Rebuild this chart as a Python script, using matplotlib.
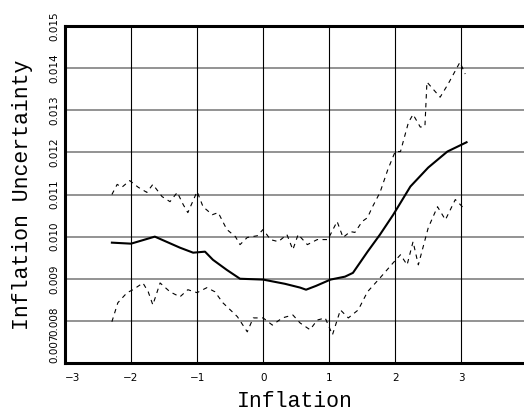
import matplotlib
matplotlib.use("Agg")
import matplotlib.pyplot as plt

# estimate (solid) line
est_x = [-2.29, -2.0, -1.64, -1.26, -1.06, -0.88, -0.76, -0.55, -0.35, 0.0,
         0.33, 0.56, 0.65, 0.80, 1.02, 1.24, 1.36, 1.58, 1.77, 1.97,
         2.23, 2.50, 2.79, 3.08]
est_y = [0.009857, 0.009833, 0.01000, 0.009738, 0.009619, 0.009643, 0.00945, 0.00921,
         0.00900, 0.00898, 0.00888, 0.00879, 0.00874, 0.00883, 0.00898, 0.00905,
         0.00914, 0.00964, 0.01005, 0.01052, 0.01119, 0.01164, 0.01202, 0.01224]

# upper band (dashed)
up_x = [-2.29, -2.21, -2.14, -2.02, -1.89, -1.76, -1.67, -1.53, -1.41, -1.30,
        -1.21, -1.14, -1.00, -0.91, -0.77, -0.68, -0.55, -0.42, -0.35, -0.24,
        -0.09, 0.00, 0.11, 0.23, 0.36, 0.45, 0.53, 0.67, 0.82, 0.98,
        1.12, 1.21, 1.32, 1.39, 1.50, 1.58, 1.65, 1.77, 1.89, 2.00,
        2.08, 2.20, 2.27, 2.38, 2.45, 2.48, 2.68, 2.80, 2.98, 3.06]
up_y = [0.01100, 0.01124, 0.01117, 0.01133, 0.01117, 0.01105, 0.01124, 0.01095, 0.01083, 0.01105,
        0.01076, 0.01057, 0.01107, 0.01071, 0.01052, 0.01057, 0.01017, 0.01000, 0.00981, 0.00998,
        0.01002, 0.01017, 0.00993, 0.00988, 0.01005, 0.00969, 0.01005, 0.00981, 0.00993, 0.00993,
        0.01036, 0.00998, 0.01012, 0.01010, 0.01036, 0.01045, 0.01069, 0.01105, 0.01160, 0.01202,
        0.01202, 0.01271, 0.01290, 0.01260, 0.01262, 0.01367, 0.01331, 0.01362, 0.01414, 0.01386]

# lower band (dashed)
lo_x = [-2.29, -2.20, -2.06, -1.97, -1.82, -1.74, -1.67, -1.56, -1.41, -1.26,
        -1.14, -1.00, -0.85, -0.73, -0.61, -0.39, -0.24, -0.15, 0.00, 0.14,
        0.29, 0.45, 0.56, 0.71, 0.82, 0.94, 1.05, 1.17, 1.29, 1.44,
        1.58, 1.77, 1.97, 2.08, 2.18, 2.27, 2.35, 2.50, 2.64, 2.76,
        2.91, 3.06]
lo_y = [0.00798, 0.00843, 0.00867, 0.00874, 0.00890, 0.00869, 0.00838, 0.00890, 0.00869, 0.00857,
        0.00874, 0.00867, 0.00879, 0.00869, 0.00843, 0.00810, 0.00774, 0.00807, 0.00807, 0.00790,
        0.00807, 0.00814, 0.00795, 0.00779, 0.00802, 0.00807, 0.00767, 0.00826, 0.00807, 0.00826,
        0.00869, 0.00902, 0.00938, 0.00957, 0.00933, 0.00988, 0.00933, 0.01021, 0.01071, 0.01040,
        0.01088, 0.01064]

x_ticks = [-3, -2, -1, 0, 1, 2, 3]
y_ticks = [0.007, 0.008, 0.009, 0.010, 0.011, 0.012, 0.013, 0.014, 0.015]

fig = plt.figure(figsize=(5.24, 4.12), dpi=100)
ax = fig.add_axes([65 / 524, 49 / 412, 1 - 65 / 524, 337 / 412])

for yv in y_ticks:
    ax.axhline(yv, color="#808080", lw=1.2, zorder=1)
for xv in x_ticks:
    ax.axvline(xv, color="black", lw=0.8, zorder=1)

ax.plot(est_x, est_y, color="black", lw=1.5, zorder=3)
ax.plot(up_x, up_y, color="black", lw=0.8, dashes=(4, 4), zorder=3)
ax.plot(lo_x, lo_y, color="black", lw=0.8, dashes=(4, 4), zorder=3)

ax.set_xlim(-3, 3.95)
ax.set_ylim(0.007, 0.015)
ax.set_xticks(x_ticks)
xlabs = ax.set_xticklabels(["\u22123", "\u22122", "\u22121", "0", "1", "2", "3"])
xlabs[0].set_ha("left")
ax.set_yticks(y_ticks)
ylabs = ax.set_yticklabels([f"{v:.3f}" for v in y_ticks], rotation=90, va="center")
ylabs[0].set_va("bottom")
ax.tick_params(length=0, labelsize=7.5)
ax.tick_params(axis="x", pad=7)
ax.tick_params(axis="y", pad=4)

for side in ["left", "bottom", "top"]:
    ax.spines[side].set_linewidth(2.2)
ax.spines["right"].set_visible(False)

ax.set_xlabel("Inflation", family="Liberation Mono", fontsize=15.5, labelpad=6)
ax.set_ylabel("Inflation Uncertainty", family="Liberation Mono", fontsize=15.5, labelpad=12)

fig.savefig("out.png", dpi=100)
